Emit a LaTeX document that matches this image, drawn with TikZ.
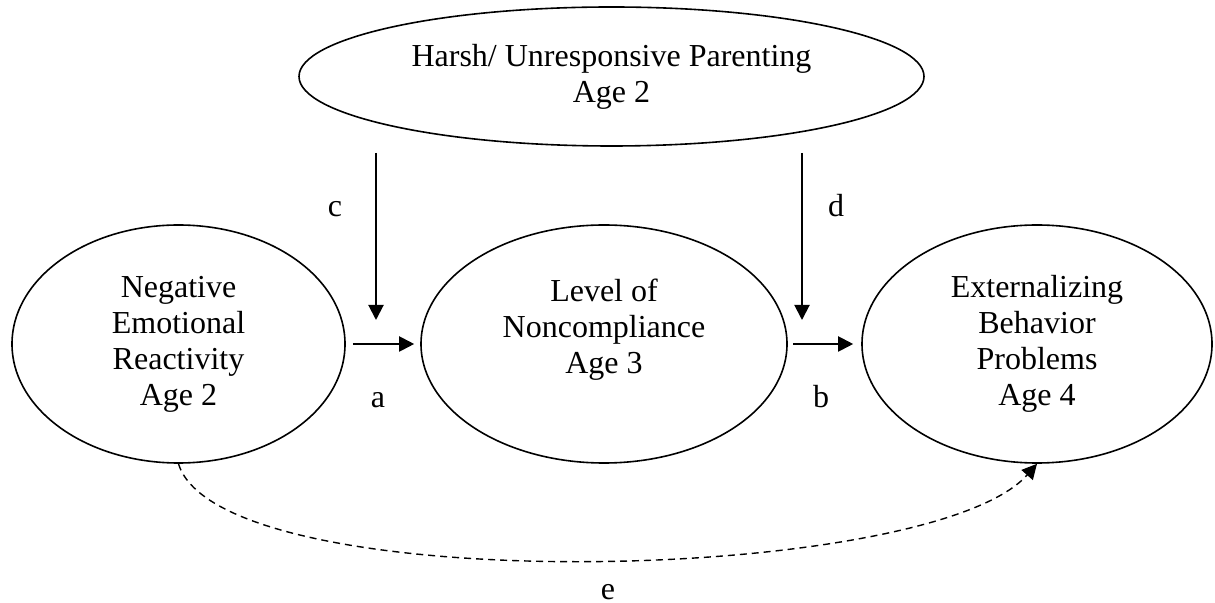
\documentclass[tikz,border=0pt]{standalone}
\usepackage{fontspec}
\setmainfont{Liberation Serif}
\usetikzlibrary{arrows.meta,shapes.geometric}
\begin{document}
\begin{tikzpicture}[x=0.5pt,y=-0.5pt,
        box/.style={draw,ellipse,line width=0.8pt,align=center,inner sep=0pt,font=\fontsize{16}{18}\selectfont},
        pfeil/.style={line width=1pt,-{Triangle[length=7.5pt,width=7.5pt]}},
        weg/.style={line width=0.7pt,dash pattern=on 3.5pt off 2.5pt,-{Triangle[length=7.5pt,width=7.5pt]}},
        lbl/.style={anchor=base,font=\fontsize{16}{18}\selectfont}]
            \useasboundingbox (0,0) rectangle (1215,603);

            % Ellipsen
            \node[box,minimum width=312.5pt,minimum height=69.5pt] (hup) at (611.5,76.5) {Harsh/ Unresponsive Parenting\\Age 2};
            \node[box,minimum width=166.5pt,minimum height=119pt] (ner) at (178.5,344) {Negative\\Emotional\\Reactivity\\Age 2};
            \node[box,minimum width=183pt,minimum height=119pt] (lnc) at (604,344) {Level of\\Noncompliance\\Age 3\\\mbox{}};
            \node[box,minimum width=175pt,minimum height=119pt] (ebp) at (1037,344) {Externalizing\\Behavior\\Problems\\Age 4};

            % Moderatoren
            \coordinate (c1) at (376,153);
            \coordinate (c2) at (376,320);
            \coordinate (d1) at (802,153);
            \coordinate (d2) at (802,320);
            \draw[pfeil] (c1) -- (c2);
            \draw[pfeil] (d1) -- (d2);

            % Pfade
            \draw[pfeil,shorten <=3.5pt,shorten >=3pt] (ner.east) -- (lnc.west);
            \draw[pfeil,shorten <=2.6pt,shorten >=4pt] (lnc.east) -- (ebp.west);
            \draw[weg] (ner.south) .. controls (220,600) and (930,585) .. (ebp.south);

            % Beschriftungen
            \node[lbl] (lc) at (335,217) {c};
            \node[lbl] (ld) at (836,217) {d};
            \node[lbl] (la) at (378,408) {a};
            \node[lbl] (lb) at (821,408) {b};
            \node[lbl] (le) at (608,599) {e};
        \end{tikzpicture}
\end{document}
